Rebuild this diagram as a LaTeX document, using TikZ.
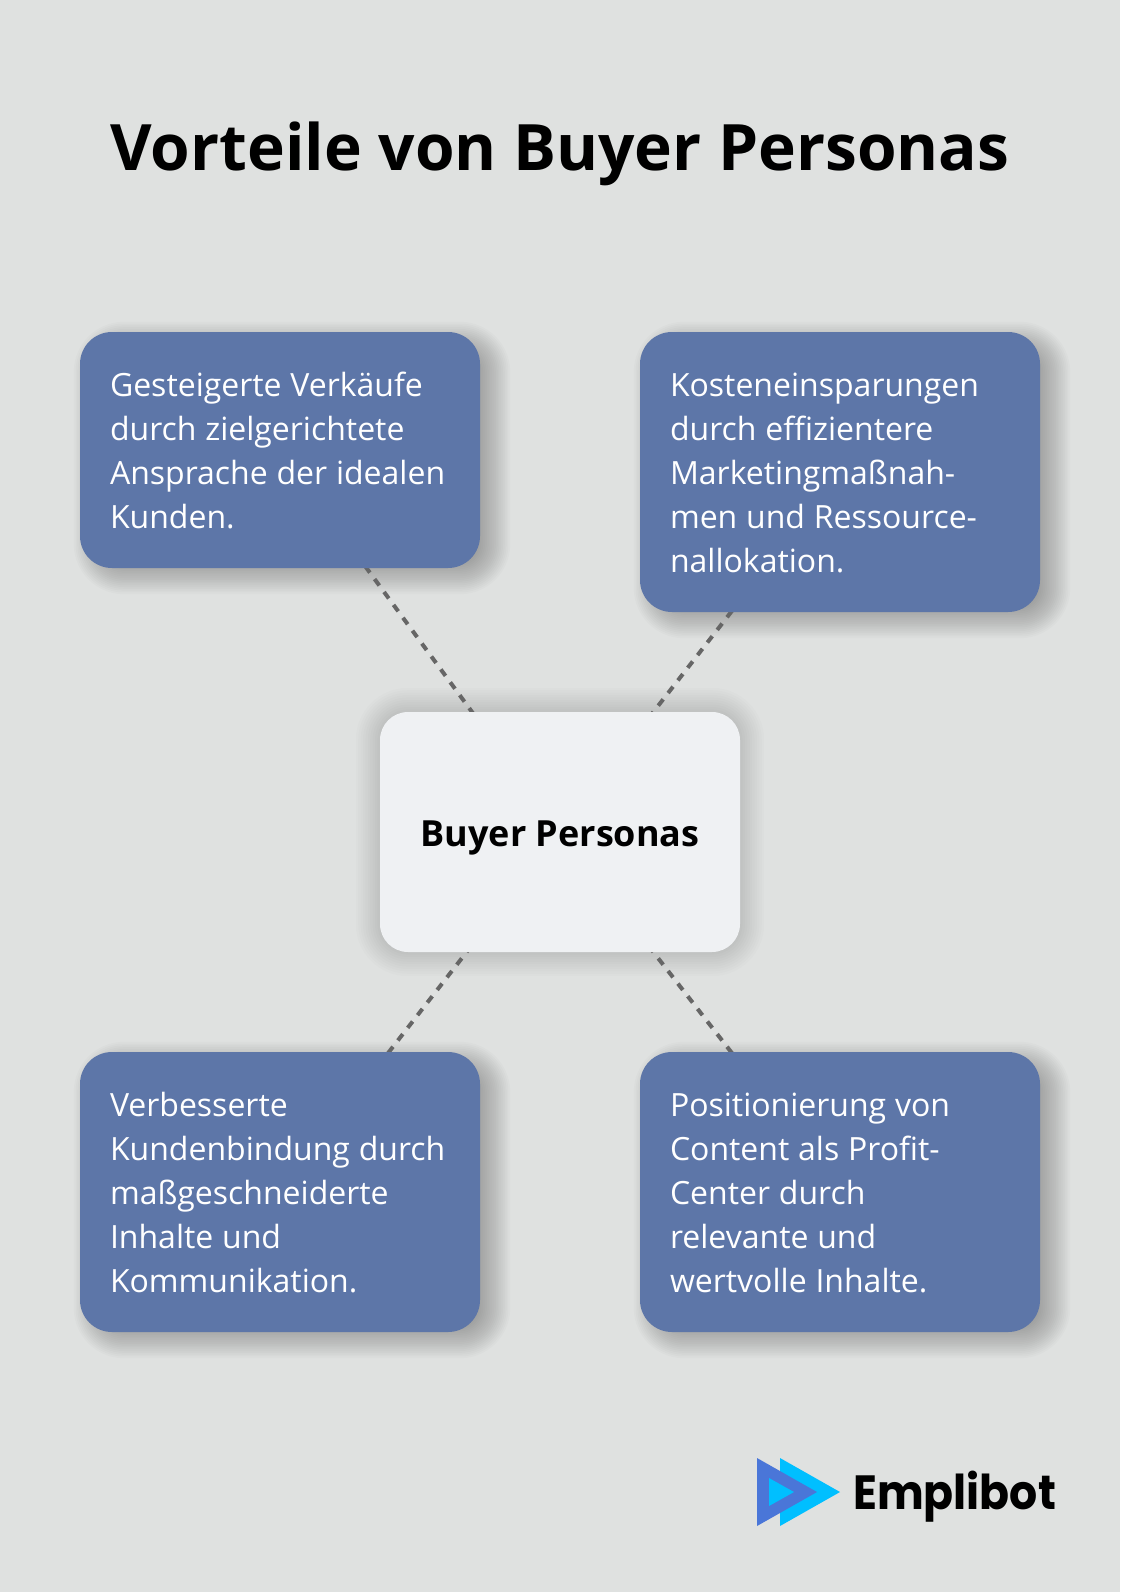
\documentclass[tikz,border=0pt]{standalone}
\usepackage{fontspec}
\setmainfont{Open Sans}
\newfontfamily\logofont[FakeStretch=0.92]{Poppins}
\usepackage{xcolor}
\usetikzlibrary{backgrounds}
\usetikzlibrary{calc}

\definecolor{pagebg}{HTML}{DFE1E0}
\definecolor{cardblue}{HTML}{5D76A8}
\definecolor{cardlight}{HTML}{EFF1F3}
\definecolor{linkgrey}{HTML}{666666}
\definecolor{logolight}{HTML}{00BFFF}
\definecolor{logodark}{HTML}{4A76D8}

% soft shadow behind a named node: node, x offset, y offset, blur, corner radius, opacity per layer
\newcommand{\softshadow}[6]{
	\foreach \i in {-10,...,10} {
		\fill[black, fill opacity=#6, rounded corners={max(#5+\i*#4/10,2)*1pt}]
			($(#1.south west)+(#2-\i*#4/10,#3-\i*#4/10)$) rectangle ($(#1.north east)+(#2+\i*#4/10,#3+\i*#4/10)$);
	}
}

\tikzset{
	benefit/.style={fill=cardblue, text=white, rounded corners=32pt, minimum width=400pt,
		text width=340pt, inner xsep=30pt, inner ysep=0pt, align=left,
		font=\fontsize{32}{44}\selectfont, execute at begin node={\spaceskip=8.8pt\relax}},
	fiveline/.style={minimum height=280pt, execute at begin node={\spaceskip=8.8pt\relax\rule{0pt}{25.5pt}}},
	hub/.style={fill=cardlight, rounded corners=28pt, minimum width=360pt, minimum height=240pt,
		align=center, text height=37pt, font=\fontsize{36}{44}\selectfont\bfseries},
	link/.style={draw=linkgrey, line width=4pt, dash pattern=on 8pt off 8pt}
}

\begin{document}
\begin{tikzpicture}[x=1pt, y=1pt]
\useasboundingbox (0,0) rectangle (1120,-1592);

\node[font=\fontsize{64}{76}\selectfont\bfseries] (title) at (560,-154) {Vorteile von Buyer Personas};

\node[benefit, minimum height=236pt] (sales) at (280,-450) {Gesteigerte Verkäufe\\durch zielgerichtete\\Ansprache der idealen\\Kunden.};
\node[benefit, fiveline] (costs) at (840,-472) {Kosteneinsparungen\\durch effizientere\\Marketingmaßnah-\\men und Ressource-\\nallokation.};
\node[benefit, fiveline] (loyal) at (280,-1192) {Verbesserte\\Kundenbindung durch\\maßgeschneiderte\\Inhalte und\\Kommunikation.};
\node[benefit, fiveline] (content) at (840,-1192) {Positionierung von\\Content als Profit-\\Center durch\\relevante und\\wertvolle Inhalte.};

\node[hub] (personas) at (560,-832) {Buyer Personas};

\begin{scope}[on background layer]
\fill[pagebg] (0,0) rectangle (1120,-1592);
\softshadow{sales}{12}{-8}{18}{32}{0.015}
\softshadow{costs}{12}{-8}{18}{32}{0.015}
\softshadow{loyal}{12}{-8}{18}{32}{0.015}
\softshadow{content}{12}{-8}{18}{32}{0.015}
\softshadow{personas}{0}{0}{24}{28}{0.012}
\draw[link] (sales.center) -- (personas.center);
\draw[link] (costs.center) -- (personas.center);
\draw[link] (loyal.center) -- (personas.center);
\draw[link] (content.center) -- (personas.center);
\end{scope}

% logo
\fill[logolight] (780,-1458) -- (840,-1492) -- (780,-1526) -- cycle;
\fill[logodark] (757,-1458) -- (817,-1492) -- (757,-1526) -- cycle;
\fill[logolight] (769,-1478) -- (794,-1492) -- (769,-1506) -- cycle;
\node[anchor=base west, inner sep=0pt, font=\fontsize{48}{48}\logofont\bfseries] (logo) at (853,-1509) {Emplibot};
\end{tikzpicture}
\end{document}
